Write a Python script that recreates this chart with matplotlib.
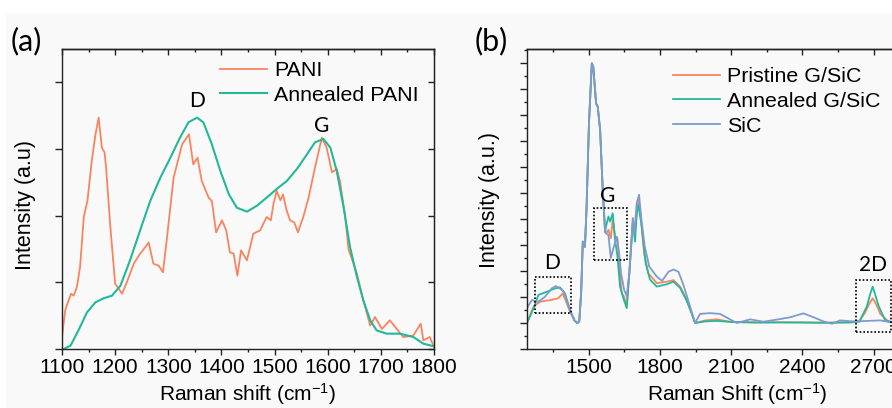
import matplotlib
matplotlib.use("Agg")
import matplotlib.pyplot as plt
from matplotlib.ticker import MultipleLocator, NullFormatter
from matplotlib.patches import Rectangle

# ---------------- data: panel (a) ----------------
pani_x = [1100, 1106, 1109, 1117, 1122, 1128, 1134, 1141, 1148, 1156, 1163, 1169, 1175, 1180,
          1183, 1191, 1200, 1213, 1222, 1235, 1247, 1257, 1263, 1272, 1282, 1290, 1297, 1310,
          1326, 1339, 1347, 1355, 1363, 1376, 1382, 1390, 1401, 1409, 1416, 1423, 1430, 1437,
          1448, 1460, 1473, 1485, 1493, 1498, 1504, 1511, 1516, 1522, 1529, 1537, 1544, 1554,
          1564, 1576, 1589, 1598, 1608, 1617, 1623, 1633, 1639, 1655, 1667, 1680, 1689, 1702,
          1717, 1730, 1742, 1761, 1775, 1780, 1792, 1800]
pani_y = [0.18, 0.58, 0.65, 0.83, 0.80, 0.93, 1.23, 1.98, 2.23, 2.82, 3.22, 3.47, 3.02, 2.95,
          2.72, 1.83, 0.98, 0.83, 1.00, 1.28, 1.43, 1.53, 1.60, 1.28, 1.25, 1.15, 1.63, 2.57,
          3.07, 3.22, 2.77, 2.87, 2.52, 2.27, 2.22, 1.75, 1.93, 1.78, 1.45, 1.43, 1.10, 1.48,
          1.33, 1.73, 1.78, 1.98, 1.93, 2.18, 2.37, 2.23, 2.32, 2.10, 1.93, 1.90, 1.75, 1.98,
          2.27, 2.72, 3.17, 3.02, 2.65, 2.70, 2.52, 1.98, 1.50, 1.13, 0.73, 0.35, 0.48, 0.30,
          0.43, 0.30, 0.18, 0.20, 0.38, 0.13, 0.18, 0.03]

ann_x = [1100, 1103, 1116, 1131, 1147, 1163, 1178, 1194, 1210, 1228, 1247, 1266, 1285, 1304,
         1322, 1338, 1354, 1366, 1382, 1398, 1414, 1429, 1448, 1467, 1485, 1504, 1523, 1542,
         1561, 1576, 1592, 1605, 1617, 1630, 1642, 1655, 1667, 1680, 1692, 1711, 1736, 1761,
         1780, 1800]
ann_y = [0.0, 0.0, 0.05, 0.28, 0.55, 0.70, 0.76, 0.80, 0.95, 1.33, 1.78, 2.22, 2.57, 2.87,
         3.17, 3.40, 3.47, 3.40, 3.07, 2.67, 2.32, 2.12, 2.06, 2.15, 2.27, 2.40, 2.52, 2.70,
         2.92, 3.10, 3.15, 3.02, 2.67, 2.12, 1.53, 1.08, 0.73, 0.43, 0.28, 0.23, 0.23, 0.18,
         0.08, 0.04]

# ---------------- data: panel (b) ----------------
pris_x = [1240, 1267, 1295, 1337, 1372, 1390, 1407, 1421, 1440, 1452, 1460, 1468, 1475, 1484,
          1491, 1501, 1513, 1519, 1531, 1538, 1548, 1559, 1569, 1573, 1583, 1593, 1601, 1611,
          1621, 1632, 1639, 1649, 1660, 1671, 1686, 1692, 1699, 1709, 1719, 1733, 1751, 1787,
          1829, 1857, 1885, 1913, 1934, 1948, 1990, 2040, 2100, 2200, 2300, 2400, 2500, 2600,
          2640, 2664, 2682, 2696, 2712, 2728, 2763, 2790]
pris_y = [0.00, 0.63, 0.82, 0.88, 0.95, 1.14, 0.77, 0.44, 0.10, 0.00, 0.05, 1.15, 3.13, 2.93,
          4.47, 7.68, 9.99, 9.86, 8.45, 8.32, 7.42, 5.12, 3.51, 3.45, 3.58, 3.26, 3.96, 3.32,
          3.26, 1.91, 1.14, 1.01, 0.63, 1.92, 4.03, 3.45, 3.90, 4.73, 4.09, 2.68, 1.91, 1.53,
          1.59, 1.65, 1.40, 0.88, 0.37, 0.00, 0.10, 0.14, 0.04, 0.02, 0.03, 0.02, 0.01, 0.03,
          0.08, 0.40, 0.75, 0.95, 0.70, 0.35, 0.05, 0.02]

anneal_x = [1240, 1267, 1288, 1323, 1358, 1379, 1400, 1421, 1440, 1452, 1460, 1468, 1475, 1484,
            1491, 1501, 1513, 1519, 1531, 1538, 1548, 1559, 1569, 1573, 1583, 1590, 1601, 1611,
            1621, 1632, 1646, 1660, 1671, 1686, 1695, 1702, 1709, 1723, 1740, 1758, 1787, 1829,
            1857, 1885, 1913, 1934, 1948, 1990, 2040, 2100, 2200, 2300, 2400, 2500, 2600, 2640,
            2672, 2685, 2696, 2708, 2721, 2749, 2790]
anneal_y = [0.00, 0.55, 1.08, 1.20, 1.33, 1.37, 1.14, 0.50, 0.10, 0.00, 0.05, 1.15, 3.13, 2.93,
            4.47, 7.68, 9.99, 9.86, 8.45, 8.32, 7.42, 5.12, 3.51, 3.72, 4.10, 3.90, 4.22, 3.20,
            2.56, 1.40, 0.95, 0.57, 1.92, 3.90, 3.13, 4.22, 4.54, 3.72, 2.30, 1.67, 1.40, 1.49,
            1.59, 1.35, 0.85, 0.35, 0.00, 0.06, 0.08, 0.04, 0.02, 0.02, 0.02, 0.01, 0.02, 0.05,
            0.65, 1.10, 1.40, 1.05, 0.65, 0.10, 0.02]

sic_x = [1240, 1260, 1288, 1316, 1344, 1362, 1393, 1407, 1421, 1440, 1452, 1460, 1468, 1475,
         1484, 1491, 1501, 1513, 1519, 1531, 1538, 1548, 1559, 1569, 1573, 1583, 1593, 1604,
         1618, 1628, 1636, 1649, 1660, 1671, 1686, 1692, 1702, 1712, 1722, 1736, 1755, 1787,
         1809, 1836, 1857, 1878, 1899, 1927, 1948, 1969, 2011, 2053, 2095, 2124, 2180, 2236,
         2292, 2348, 2404, 2447, 2489, 2524, 2559, 2616, 2672, 2728, 2790]
sic_y = [0.57, 0.88, 0.82, 1.01, 1.33, 1.42, 1.24, 0.88, 0.50, 0.10, 0.00, 0.05, 1.15, 3.13,
         2.93, 4.47, 7.68, 9.99, 9.86, 8.45, 8.32, 7.42, 5.12, 3.51, 3.45, 3.38, 2.50, 2.88,
         3.32, 2.68, 1.92, 1.28, 1.03, 1.92, 4.03, 3.45, 4.60, 4.93, 3.97, 2.94, 2.17, 1.78,
         1.62, 1.97, 2.06, 1.97, 1.46, 0.63, 0.00, 0.35, 0.38, 0.35, 0.14, 0.00, 0.14, 0.05,
         0.13, 0.22, 0.37, 0.22, 0.06, -0.03, 0.10, 0.06, 0.08, 0.10, 0.00]

# ---------------- style ----------------
ORANGE = "#FA8460"
TEAL = "#22B89A"
BLUE = "#7E9BCD"
BG = "#F9F9F9"
FONT = "Liberation Sans"
LBL = "Lato"
TICKFS = 15
LABFS = 15
LEGFS = 15.4

plt.rcParams["font.family"] = [FONT, "DejaVu Sans"]
plt.rcParams["mathtext.fontset"] = "custom"
plt.rcParams["mathtext.rm"] = FONT
plt.rcParams["mathtext.it"] = FONT
plt.rcParams["mathtext.default"] = "regular"

W, H = 892, 408
fig = plt.figure(figsize=(W / 100, H / 100), dpi=100, facecolor="white")
fig.patches.append(Rectangle((6 / W, 0), 1, (H - 14) / H, transform=fig.transFigure,
                             facecolor=BG, edgecolor="none", zorder=-10))


def style_axes(ax, xmaj, xmin, ymaj, ymin):
    ax.set_facecolor(BG)
    for s in ax.spines.values():
        s.set_linewidth(1.0)
        s.set_color("#222222")
    ax.xaxis.set_major_locator(MultipleLocator(xmaj))
    ax.xaxis.set_minor_locator(MultipleLocator(xmin))
    ax.yaxis.set_major_locator(MultipleLocator(ymaj))
    if ymin:
        ax.yaxis.set_minor_locator(MultipleLocator(ymin))
    ax.yaxis.set_major_formatter(NullFormatter())
    ax.tick_params(axis="both", which="major", direction="out", length=4.0, width=1.0,
                   labelsize=TICKFS, pad=2.5, color="#222222")
    ax.tick_params(axis="both", which="minor", direction="out", length=2.5, width=1.0,
                   color="#222222")
    top = ax.secondary_xaxis("top")
    top.xaxis.set_major_locator(MultipleLocator(xmaj))
    top.xaxis.set_minor_locator(MultipleLocator(xmin))
    top.tick_params(which="major", direction="in", length=4.0, width=1.0, labeltop=False,
                    color="#222222")
    top.tick_params(which="minor", direction="in", length=2.5, width=1.0, color="#222222")
    top.spines["top"].set_linewidth(1.0)
    return top


def legend(ax, x_px, y_px):
    ax.legend(loc="upper left", bbox_to_anchor=(x_px / W, (H - y_px) / H),
              bbox_transform=fig.transFigure, frameon=False, fontsize=LEGFS,
              handlelength=2.2, handletextpad=0.33, labelspacing=0.27, borderaxespad=0,
              borderpad=0)


# ---------------- panel (a) ----------------
axa = fig.add_axes([62 / W, (H - 349) / H, 372 / W, 300 / H])
axa.plot(pani_x, pani_y, color=ORANGE, lw=1.3, label="PANI")
axa.plot(ann_x, ann_y, color=TEAL, lw=1.5, label="Annealed PANI")
axa.set_xlim(1100, 1800)
axa.set_ylim(0, 4.5)
style_axes(axa, 100, 50, 1, None)
right = axa.secondary_yaxis("right")
right.yaxis.set_major_locator(MultipleLocator(1))
right.tick_params(direction="in", length=4.5, width=1.0, labelright=False, color="#222222")
axa.tick_params(axis="y", which="major", length=5)

axa.text(1354, 3.72, "D", fontsize=15, family=LBL, ha="center", va="center")
axa.text(1588, 3.34, "G", fontsize=15, family=LBL, ha="center", va="center")
legend(axa, 220, 61)

fig.text(25 / W, 1 - 205 / H, "Intensity (a.u)", rotation=90, ha="center", va="center",
         fontsize=LABFS + 0.5)
fig.text(247 / W, 1 - 394 / H, "Raman shift (cm$^{\\mathrm{-1}}$)", ha="center",
         va="center", fontsize=LABFS)
fig.text(11 / W, 1 - 41 / H, "(a)", fontsize=22, family=LBL, ha="left", va="center")

# ---------------- panel (b) ----------------
axb = fig.add_axes([527 / W, (H - 349) / H, 368 / W, 300 / H])
axb.plot(pris_x, pris_y, color=ORANGE, lw=1.3, label="Pristine G/SiC")
axb.plot(anneal_x, anneal_y, color=TEAL, lw=1.3, label="Annealed G/SiC")
axb.plot(sic_x, sic_y, color=BLUE, lw=1.3, label="SiC")
axb.set_xlim(1240, 2790)
axb.set_ylim(-1, 10.54)
style_axes(axb, 300, 150, 1, 0.5)
axb.tick_params(axis="y", which="major", length=5)
axb.tick_params(axis="y", which="minor", length=2.5)

for (x0, x1, y0, y1) in [(1274, 1425, 0.38, 1.77), (1522, 1660, 2.42, 4.42),
                         (2625, 2773, -0.33, 1.65)]:
    axb.add_patch(Rectangle((x0, y0), x1 - x0, y1 - y0, fill=False, ls=(0, (1, 1.2)),
                            lw=1.2, ec="black", zorder=5))
axb.text(1345, 2.31, "D", fontsize=15, family=LBL, ha="center", va="center")
axb.text(1581, 4.88, "G", fontsize=15, family=LBL, ha="center", va="center")
axb.text(2696, 2.23, "2D", fontsize=15, family=LBL, ha="center", va="center")
legend(axb, 673, 67)

fig.text(490 / W, 1 - 200 / H, "Intensity (a.u.)", rotation=90, ha="center", va="center",
         fontsize=LABFS + 0.5)
fig.text(737 / W, 1 - 394 / H, "Raman Shift (cm$^{\\mathrm{-1}}$)", ha="center",
         va="center", fontsize=LABFS)
fig.text(475 / W, 1 - 41 / H, "(b)", fontsize=22, family=LBL, ha="left", va="center")

fig.savefig("out.png", dpi=100, facecolor=fig.get_facecolor())
